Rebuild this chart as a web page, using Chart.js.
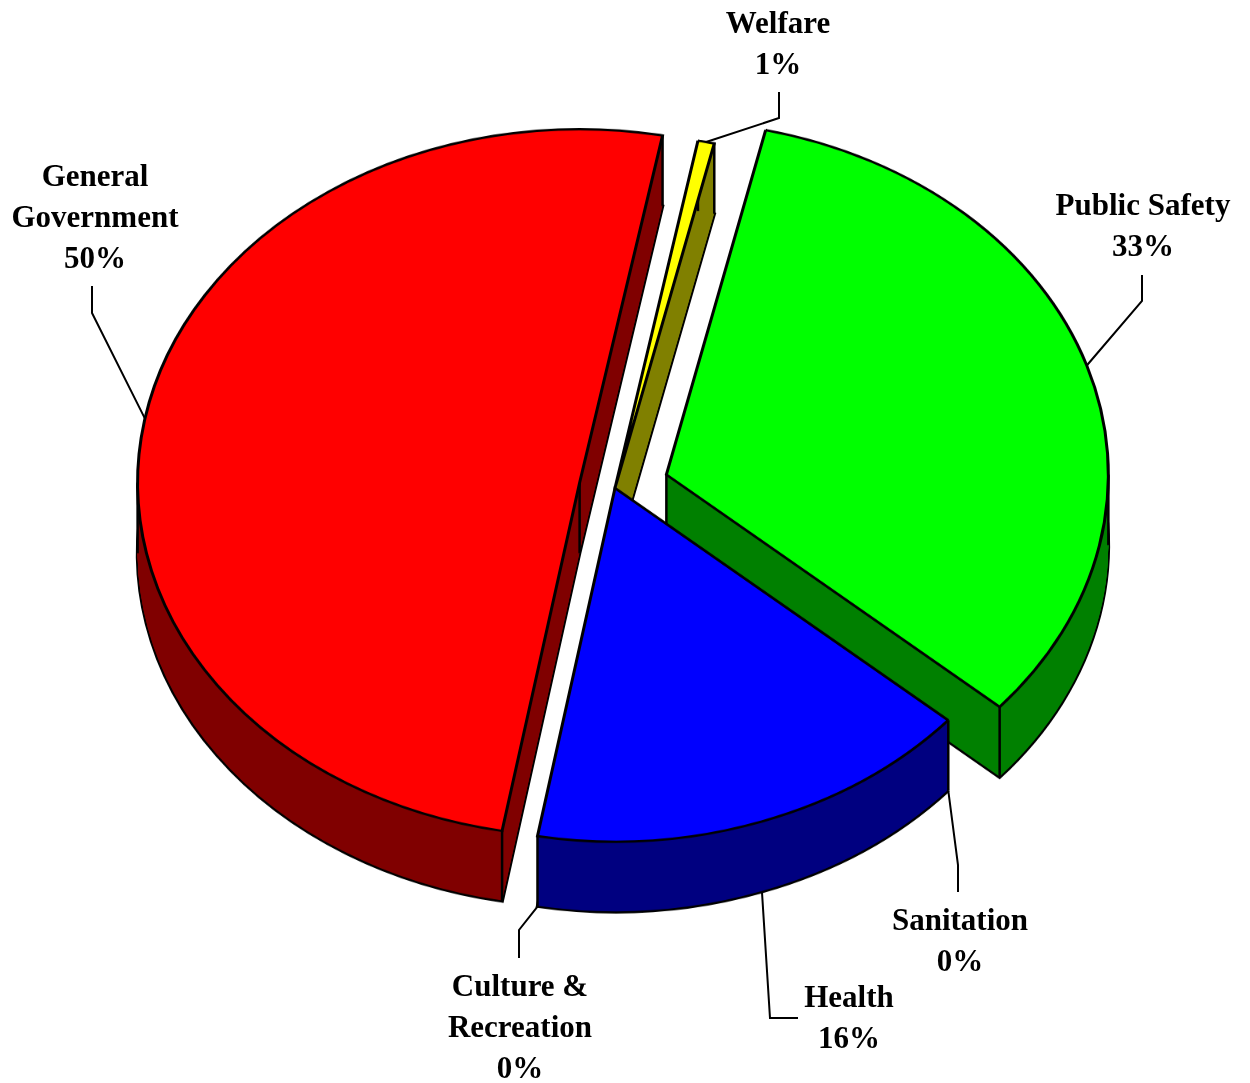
<!DOCTYPE html>
<html>
<head>
<meta charset="utf-8">
<script src="https://cdn.jsdelivr.net/npm/chart.js@4.4.0/dist/chart.umd.min.js"></script>
<style>
  body { margin: 0; background: #fff; width: 1250px; height: 1083px; overflow: hidden; position: relative; }
  #pie { position: absolute; left: 0; top: 88px; width: 1250px; height: 1100px; transform: scaleY(0.8); transform-origin: 0 0; }
  #leaders { position: absolute; left: 0; top: 0; }
  .lbl { position: absolute; width: 300px; text-align: center; font-family: "Liberation Serif", "Times New Roman", serif;
         font-weight: bold; font-size: 31px; line-height: 41px; color: #000; white-space: pre; }
</style>
</head>
<body>
<div id="pie"><canvas id="pie-chart" width="1250" height="1100"></canvas></div>
<svg id="leaders" width="1250" height="1083"></svg>
<script>
// data (percent of total)
var categories = ['General\nGovernment', 'Welfare', 'Public Safety', 'Sanitation', 'Health', 'Culture &\nRecreation'];
var values = [50.2, 0.6, 32.8, 0, 16.4, 0];

var topColors = ['#FF0000', '#FFFF00', '#00FF00', '#00FFFF', '#0000FF', '#FF00FF'];
var sideColors = ['#800000', '#808000', '#008000', '#008080', '#000080', '#800080'];
var explode = [36, 0, 54, 0, 0, 0];

// label layout: first baseline, then leader line points after the anchor on the pie
var labelLayout = [
  {x: 95, y: 186, path: [[92, 313], [92, 286]]},
  {x: 778, y: 33, path: [[779, 118], [779, 92]]},
  {x: 1143, y: 215, path: [[1142, 301], [1142, 275]]},
  {x: 960, y: 930, path: [[958, 865], [958, 892]]},
  {x: 849, y: 1007, path: [[770, 1018], [798, 1018]]},
  {x: 520, y: 996, path: [[519, 930], [519, 958]]}
];

var depth = 88;      // side height in canvas px (before squash)
var squash = 0.8;
var canvasTop = 88;

function midAngle(el) { return (el.startAngle + el.endAngle) / 2; }
function shiftOf(el, i) {
  var a = midAngle(el);
  return {dx: Math.cos(a) * explode[i], dy: Math.sin(a) * explode[i]};
}
function inArc(t, s, e) {
  var d = ((t - s) % (2 * Math.PI) + 2 * Math.PI) % (2 * Math.PI);
  return d < (e - s);
}

var pie3d = {
  id: 'pie3d',
  beforeDatasetDraw: function(chart) {
    var ctx = chart.ctx;
    var arcs = chart.getDatasetMeta(0).data;
    var order = arcs.map(function(el, i) { return i; });
    order.sort(function(a, b) { return Math.sin(midAngle(arcs[a])) - Math.sin(midAngle(arcs[b])); });

    order.forEach(function(i) {
      var el = arcs[i];
      if (!el.circumference) return;
      var s = shiftOf(el, i);
      for (var k = depth; k >= 1; k--) {
        var side = Object.create(el);
        side.options = Object.assign({}, el.options, {backgroundColor: sideColors[i], borderWidth: k === depth ? 3.5 : 0});
        ctx.save();
        ctx.translate(s.dx, s.dy + k);
        side.draw(ctx);
        ctx.restore();
      }
      // vertical edges of the slice
      var cx = el.x + s.dx, cy = el.y + s.dy, r = el.outerRadius;
      var pts = [[cx, cy],
                 [cx + r * Math.cos(el.startAngle), cy + r * Math.sin(el.startAngle)],
                 [cx + r * Math.cos(el.endAngle), cy + r * Math.sin(el.endAngle)]];
      [0, Math.PI].forEach(function(t) {
        if (inArc(t, el.startAngle, el.endAngle)) pts.push([cx + r * Math.cos(t), cy]);
      });
      ctx.save();
      ctx.strokeStyle = '#000';
      ctx.lineWidth = 2.5;
      pts.forEach(function(p) {
        ctx.beginPath(); ctx.moveTo(p[0], p[1]); ctx.lineTo(p[0], p[1] + depth); ctx.stroke();
      });
      ctx.restore();
    });

    arcs.forEach(function(el, i) {
      var s = shiftOf(el, i);
      ctx.save();
      ctx.translate(s.dx, s.dy);
      el.draw(ctx);
      ctx.restore();
    });
    return false;
  }
};

var pieChart = new Chart(document.getElementById('pie-chart'), {
  type: 'pie',
  data: {
    labels: categories,
    datasets: [{
      data: values,
      backgroundColor: topColors,
      borderColor: '#000',
      borderWidth: 3,
      borderJoinStyle: 'miter',
      radius: 442,
      rotation: 190.1
    }]
  },
  options: {
    responsive: false,
    animation: false,
    events: [],
    layout: {padding: {left: 0, right: 20, top: 0, bottom: 100}},
    plugins: {legend: {display: false}, tooltip: {enabled: false}}
  },
  plugins: [pie3d]
});

// labels and leader lines
var total = values.reduce(function(a, b) { return a + b; }, 0);
var svg = document.getElementById('leaders');
var arcs = pieChart.getDatasetMeta(0).data;
arcs.forEach(function(el, i) {
  var lay = labelLayout[i];
  var div = document.createElement('div');
  div.className = 'lbl';
  div.textContent = categories[i] + '\n' + Math.round(values[i] / total * 100) + '%';
  div.style.left = (lay.x - 150) + 'px';
  div.style.top = (lay.y - 31) + 'px';
  document.body.appendChild(div);

  var a = midAngle(el);
  var s = shiftOf(el, i);
  var ax = el.x + s.dx + el.outerRadius * Math.cos(a);
  var ay = el.y + s.dy + el.outerRadius * Math.sin(a);
  if (Math.sin(a) > 0) ay += depth;
  var pts = [[ax, canvasTop + ay * squash]].concat(lay.path);
  var line = document.createElementNS('http://www.w3.org/2000/svg', 'polyline');
  line.setAttribute('points', pts.map(function(p) { return p[0] + ',' + p[1]; }).join(' '));
  line.setAttribute('fill', 'none');
  line.setAttribute('stroke', '#000');
  line.setAttribute('stroke-width', '2');
  svg.appendChild(line);
});
</script>
</body>
</html>
